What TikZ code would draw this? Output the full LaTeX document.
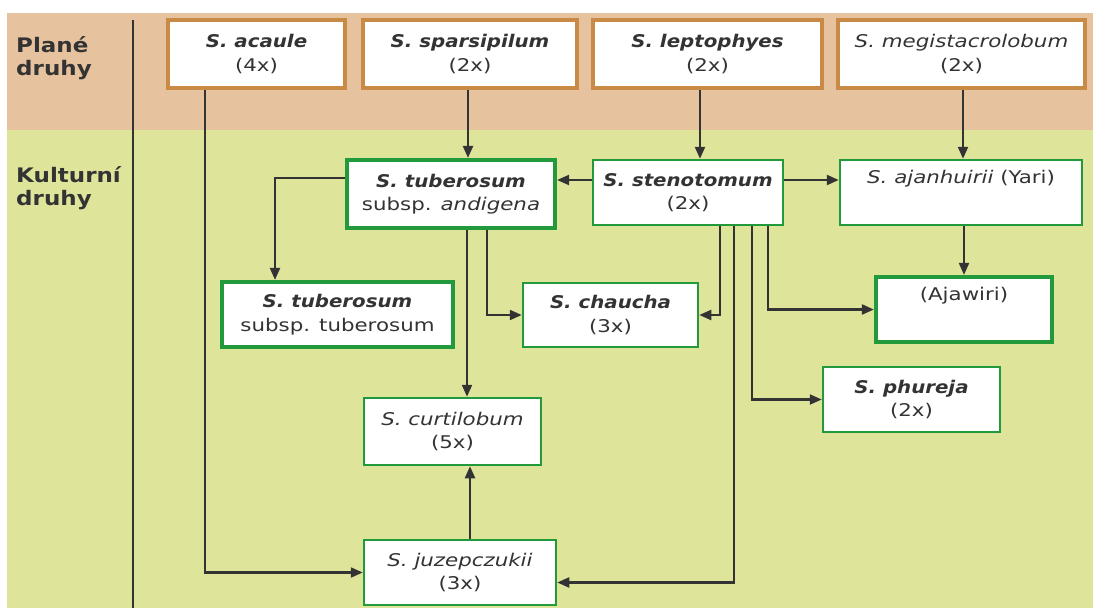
\documentclass[tikz,border=0pt]{standalone}
\usepackage{fontspec}
\setmainfont{DejaVu Sans}[FakeStretch=1.22,
  BoldItalicFeatures={FakeStretch=1.13},
  BoldFeatures={FakeStretch=1.15}]
\usetikzlibrary{arrows.meta}
\definecolor{peach}{HTML}{E6C29E}
\definecolor{lgreen}{HTML}{DEE59B}
\definecolor{pborder}{HTML}{C98A45}
\definecolor{gborder}{HTML}{22993A}
\definecolor{ink}{HTML}{333333}
\begin{document}
\begin{tikzpicture}[x=1pt,y=-1pt,
  box/.style={draw, fill=white, align=center, inner sep=0pt, text=ink,
    font=\fontsize{17.5}{23.5}\selectfont},
  wild/.style={box, draw=pborder, line width=3.2pt, minimum height=68pt},
  cult/.style={box, draw=gborder, line width=2.5pt, minimum height=65pt},
  strong/.style={box, draw=gborder, line width=4.2pt, minimum height=65pt},
  arr/.style={draw=ink, line width=2.2pt, -{Triangle[length=12pt,width=10pt]}},
  rowlabel/.style={anchor=north west, align=left, inner sep=0pt, text=ink,
    font=\fontsize{20}{23}\selectfont\bfseries}]
\useasboundingbox (0,0) rectangle (1093,608);
\fill[white] (0,0) rectangle (1093,608);
\fill[peach] (7,13) rectangle (1093,130);
\fill[lgreen] (7,130) rectangle (1093,608);
\draw[ink, line width=1.3pt] (133,20) -- (133,608);
\node[rowlabel] (lab1) at (16,36) {Plané\\druhy};
\node[rowlabel] (lab2) at (16,166) {Kulturní\\druhy};

% wild species
\node[wild, minimum width=177pt] (ac) at (256.5,54) {\textbf{\textit{S. acaule}}\\(4x)};
\node[wild, minimum width=214pt] (sp) at (470,54) {\textbf{\textit{S. sparsipilum}}\\(2x)};
\node[wild, minimum width=229pt] (lep) at (707.5,54) {\textbf{\textit{S. leptophyes}}\\(2x)};
\node[wild, minimum width=247pt] (meg) at (961.5,54) {\textit{S. megistacrolobum}\\(2x)};

% cultivated
\node[strong, minimum width=208pt, minimum height=68pt] (and) at (451,194) {\textbf{\textit{S. tuberosum}}\\subsp. \textit{andigena}};
\node[cult, minimum width=190pt] (st) at (688,192.5) {\textbf{\textit{S. stenotomum}}\\(2x)};
\node[cult, minimum width=242pt] (aj) at (961,192.5) {\textit{S. ajanhuirii} (Yari)\\\strut};
\node[strong, minimum width=231pt] (tub) at (337.5,314.5) {\textbf{\textit{S. tuberosum}}\\subsp. tuberosum};
\node[cult, minimum width=175pt, minimum height=64pt] (ch) at (610.5,315) {\textbf{\textit{S. chaucha}}\\(3x)};
\node[strong, minimum width=176pt] (aw) at (964,309.5) {(Ajawiri)\\\strut};
\node[cult, minimum width=177pt] (ph) at (911.5,399.5) {\textbf{\textit{S. phureja}}\\(2x)};
\node[cult, minimum width=177pt, minimum height=67pt] (cu) at (452.5,431.5) {\textit{S. curtilobum}\\(5x)};
\node[cult, minimum width=192pt] (ju) at (460,572.5) {\textit{S. juzepczukii}\\(3x)};

% connector start points
\coordinate (acS) at ([xshift=-51.5pt]ac.south);
\coordinate (spS) at ([xshift=-2pt]sp.south);
\coordinate (lepS) at ([xshift=-7.5pt]lep.south);
\coordinate (megS) at ([xshift=1.5pt]meg.south);
\coordinate (stW) at ([yshift=12.5pt]st.west);
\coordinate (stE) at ([yshift=12.5pt]st.east);
\coordinate (andW) at ([yshift=16pt]and.west);
\coordinate (tubN) at ([xshift=-62.5pt]tub.north);
\coordinate (andS1) at ([xshift=16pt]and.south);
\coordinate (andS2) at ([xshift=36pt]and.south);
\coordinate (stS1) at ([xshift=32pt]st.south);
\coordinate (stS2) at ([xshift=46pt]st.south);
\coordinate (stS3) at ([xshift=64pt]st.south);
\coordinate (stS4) at ([xshift=80pt]st.south);
\coordinate (ajS) at ([xshift=3pt]aj.south);
\coordinate (juN) at ([xshift=10pt]ju.north);
\coordinate (juE) at ([yshift=-10pt]ju.east);

\draw[arr] (acS) |- (ju.west);
\draw[arr] (spS) -- (spS |- and.north);
\draw[arr] (lepS) -- (lepS |- st.north);
\draw[arr] (megS) -- (megS |- aj.north);
\draw[arr] (stW) -- (stW -| and.east);
\draw[arr] (stE) -- (stE -| aj.west);
\draw[arr] (andW) -| (tubN);
\draw[arr] (andS1) -- (andS1 |- cu.north);
\draw[arr] (andS2) |- (ch.west);
\draw[arr] (stS1) |- (ch.east);
\draw[arr] (stS2) |- (juE);
\draw[arr] (stS3) |- (ph.west);
\draw[arr] (stS4) |- (aw.west);
\draw[arr] (ajS) -- (ajS |- aw.north);
\draw[arr] (juN) -- (juN |- cu.south);
\end{tikzpicture}
\end{document}
